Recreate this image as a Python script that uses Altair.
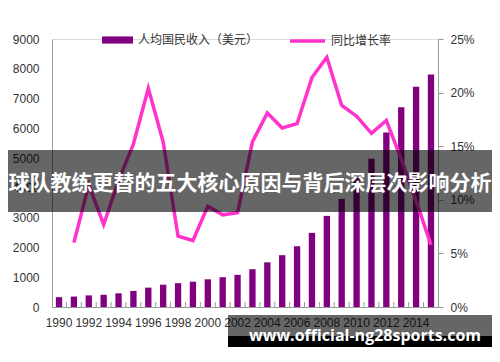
import altair as alt
import pandas as pd

years = list(range(1990, 2016))
income = [330, 350, 390, 410, 460, 540, 650, 750, 800, 850, 930, 1000, 1080,
          1270, 1500, 1740, 2040, 2490, 3060, 3630, 4340, 4980, 5860, 6710, 7400, 7810]
growth = [None, 6.0, 11.4, 7.7, 11.8, 15.2, 20.4, 15.4, 6.6, 6.2, 9.4, 8.6, 8.8,
          15.4, 18.1, 16.7, 17.1, 21.4, 23.3, 18.8, 17.8, 16.2, 17.4, 13.8, 9.9, 5.8]
x_labels = list(range(1990, 2015, 2))
left_ticks = list(range(0, 9001, 1000))
right_ticks = [0, 5, 10, 15, 20, 25]
bar_name = "人均国民收入（美元）"
line_name = "同比增长率"
title_text = "球队教练更替的五大核心原因与背后深层次影响分析"
watermark = "www.official-ng28sports.com"

df = pd.DataFrame({"year": years, "income": income, "growth": growth,
                   "s1": bar_name, "s2": line_name})

W, H = 386, 268
label_font = "Liberation Sans"
cjk = "Noto Sans CJK SC"

xenc = alt.X("year:O",
             scale=alt.Scale(paddingInner=0.575, paddingOuter=0.26),
             axis=alt.Axis(values=x_labels, title=None, labelAngle=0, labelOverlap=False,
                           labelFont=label_font, labelFontSize=12, labelColor="#333",
                           tickSize=0, labelPadding=10, domainColor="#999"))

base = alt.Chart(df)

bars = base.mark_bar().encode(
    x=xenc,
    y=alt.Y("income:Q", scale=alt.Scale(domain=[0, 9000], nice=False),
            axis=alt.Axis(orient="left", values=left_ticks, title=None, grid=False, format="d",
                          labelFont=label_font, labelFontSize=12, labelColor="#333",
                          tickSize=0, labelPadding=13, domainColor="#999")),
    fill=alt.Fill("s1:N", scale=alt.Scale(domain=[bar_name], range=["#800080"]),
                  legend=alt.Legend(orient="none", legendX=50, legendY=-14.5, title=None,
                                    direction="horizontal", padding=0,
                                    symbolType="M-1,-0.23L1,-0.23L1,0.23L-1,0.23Z",
                                    symbolSize=961, symbolStrokeWidth=0,
                                    labelFont=cjk, labelFontSize=12, labelColor="#333",
                                    labelOffset=5)),
)

line = base.mark_line(strokeWidth=3.5).encode(
    x=xenc,
    y=alt.Y("growth:Q", scale=alt.Scale(domain=[0, 25], nice=False),
            axis=alt.Axis(orient="right", values=right_ticks, title=None, grid=False,
                          labelExpr="datum.value + '%'",
                          labelFont=label_font, labelFontSize=12, labelColor="#333",
                          tickSize=5, tickColor="#999", labelPadding=7, domainColor="#999")),
    stroke=alt.Stroke("s2:N", scale=alt.Scale(domain=[line_name], range=["#ff33cc"]),
                      legend=alt.Legend(orient="none", legendX=236, legendY=-17.5, title=None,
                                        direction="horizontal", padding=0,
                                        symbolType="stroke", symbolSize=1225,
                                        symbolStrokeWidth=3.5,
                                        labelFont=cjk, labelFontSize=12, labelColor="#333",
                                        labelOffset=4)),
)

xticks = base.mark_rule(color="#999", strokeWidth=1, xOffset=7.42).encode(
    x=xenc, y=alt.value(H - 5), y2=alt.value(H))

one = pd.DataFrame({"t": [title_text]})
banner = alt.Chart(one).mark_rect(color="black", opacity=0.6).encode(
    x=alt.value(-44), x2=alt.value(440), y=alt.value(111), y2=alt.value(173))
banner_text = alt.Chart(one).mark_text(font=cjk, fontSize=21, fontWeight="bold",
                                       color="white", align="center", baseline="middle").encode(
    x=alt.value(198), y=alt.value(145), text="t:N")

wm = pd.DataFrame({"t": [watermark]})
wm_grey = alt.Chart(wm).mark_rect(color="black", opacity=0.6).encode(
    x=alt.value(176), x2=alt.value(440), y=alt.value(276), y2=alt.value(297))
wm_black = alt.Chart(wm).mark_rect(color="black", opacity=1).encode(
    x=alt.value(176), x2=alt.value(440), y=alt.value(297), y2=alt.value(314))
wm_text = alt.Chart(wm).mark_text(font="Open Sans", fontSize=16, fontWeight="bold",
                                  color="white", align="center", baseline="alphabetic").encode(
    x=alt.value(313), y=alt.value(302), text="t:N")

chart = alt.layer(bars, line, xticks, banner, banner_text, wm_grey, wm_black, wm_text).resolve_scale(
    y="independent"
).properties(
    width=W, height=H, autosize="none",
    padding={"left": 44, "top": 31, "right": 54, "bottom": 40},
).configure_view(stroke=None).configure(background="white")

chart.save("out.html", embed_options={"renderer": "svg", "actions": False})
